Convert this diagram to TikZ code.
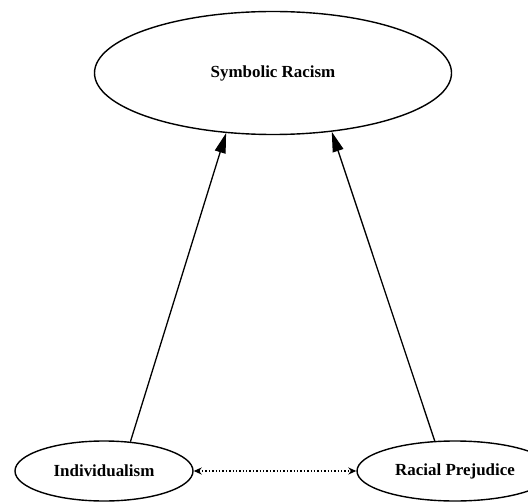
\documentclass[tikz,border=0pt]{standalone}
\usepackage{fontspec}
\setmainfont{Liberation Serif}
\usetikzlibrary{shapes.geometric,arrows.meta}
\tikzset{
  oval/.style={ellipse, draw, line width=1.4bp, inner sep=0pt, font=\fontsize{17}{20}\selectfont\bfseries},
  mainarrow/.style={line width=1.3bp, -{Triangle[length=20bp,width=11bp]}},
  corrarrow/.style={line width=1.4bp, dotted, {Stealth[length=8bp,width=7bp]}-{Stealth[length=8bp,width=7bp]}}
}
\begin{document}
\begin{tikzpicture}[x=1bp,y=-1bp]
\useasboundingbox (0,0) rectangle (528,502);
\clip (0,0) rectangle (528,502);
\fill[white] (0,0) rectangle (528,502);
\node[oval, minimum width=357bp, minimum height=123bp] (sr) at (273,73) {Symbolic Racism};
\node[oval, minimum width=178bp, minimum height=60bp] (ind) at (104,471) {Individualism};
\node[oval, minimum width=196bp, minimum height=60bp] (rp) at (455,471) {Racial Prejudice};
\draw[mainarrow] (ind.48) -- (sr.232);
\draw[mainarrow] (rp.124) -- (sr.315);
\draw[corrarrow] (ind.east) -- (rp.west);
\end{tikzpicture}
\end{document}
